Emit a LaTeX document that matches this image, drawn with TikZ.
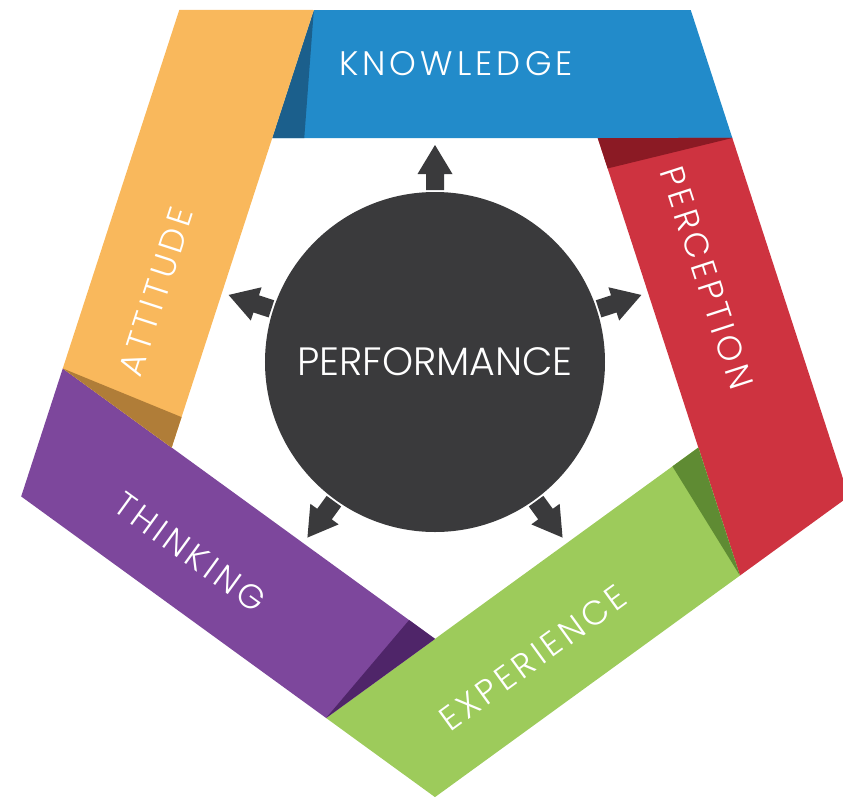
\documentclass[tikz,border=0pt]{standalone}
\usepackage{fontspec}
\usetikzlibrary{positioning, shapes}
\IfFontExistsTF{Poppins Light}{\setsansfont{Poppins Light}\newfontfamily\ribbonfont{Poppins Light}[LetterSpace=12]}{\setsansfont{Poppins}\newfontfamily\ribbonfont{Poppins}[LetterSpace=12]}
\definecolor{knowledge_blue}{HTML}{228BCA}
\definecolor{knowledge_dark}{HTML}{1B5F8C}
\definecolor{perception_red}{HTML}{CE3340}
\definecolor{perception_dark}{HTML}{8B1A24}
\definecolor{experience_green}{HTML}{9DCB5B}
\definecolor{experience_dark}{HTML}{5F8B33}
\definecolor{thinking_purple}{HTML}{7D479C}
\definecolor{thinking_dark}{HTML}{4F2569}
\definecolor{attitude_orange}{HTML}{F9B85C}
\definecolor{attitude_dark}{HTML}{B07D38}
\definecolor{perf_grey}{HTML}{3A3A3C}

\begin{document}
\begin{tikzpicture}[x=1pt, y=1pt]
	\tikzset{
		band/.style={draw=none}, % coloured ribbon piece of the pentagon
		fold/.style={draw=none}, % darker folded corner at the start of a ribbon
		pointer/.style={fill=perf_grey, draw=none}, % small block arrow round the circle
		bandlabel/.style={text=white, inner sep=0pt, font=\ribbonfont\fontsize{34}{34}\selectfont}, % text on a ribbon
	}
	\tikzstyle{hub} = [circle, fill=perf_grey, minimum size=340pt, inner sep=0pt, text=white, font=\sffamily\fontsize{39.5}{39.5}\selectfont]
	\useasboundingbox (-435,-445) rectangle (408,362);
	\clip (-435,-445) rectangle (408,362);
	% five ribbons, each turned by a fifth of a turn
	\foreach \ang/\col/\dark in {0/knowledge_blue/knowledge_dark, -72/perception_red/perception_dark, -144/experience_green/experience_dark, -216/thinking_purple/thinking_dark, -288/attitude_orange/attitude_dark}{
		\begin{scope}[rotate=\ang]
			\fill[band, \col] (-162.74,224) -- (-121.16,352) -- (255.75,352) -- (297.33,224) -- cycle;
			\fill[fold, \dark] (-162.74,224) -- (-121.16,352) -- (-130.74,224) -- cycle;
			\fill[pointer] (-9,172) -- (-9,188) -- (-17.5,188) -- (0,217) -- (17.5,188) -- (9,188) -- (9,172) -- cycle;
		\end{scope}
	}
	\node[hub] (perf) at (0,0) {PERFORMANCE};
	\node[bandlabel] (knowledge) at (21,298) {KNOWLEDGE};
	\node[bandlabel, rotate=-72] (perception) at (272,84) {PERCEPTION};
	\node[bandlabel, rotate=36] (experience) at (98,-296) {EXPERIENCE};
	\node[bandlabel, rotate=-36] (thinking) at (-245,-190) {THINKING};
	\node[bandlabel, rotate=72] (attitude) at (-279,70) {ATTITUDE};
\end{tikzpicture}
\end{document}
